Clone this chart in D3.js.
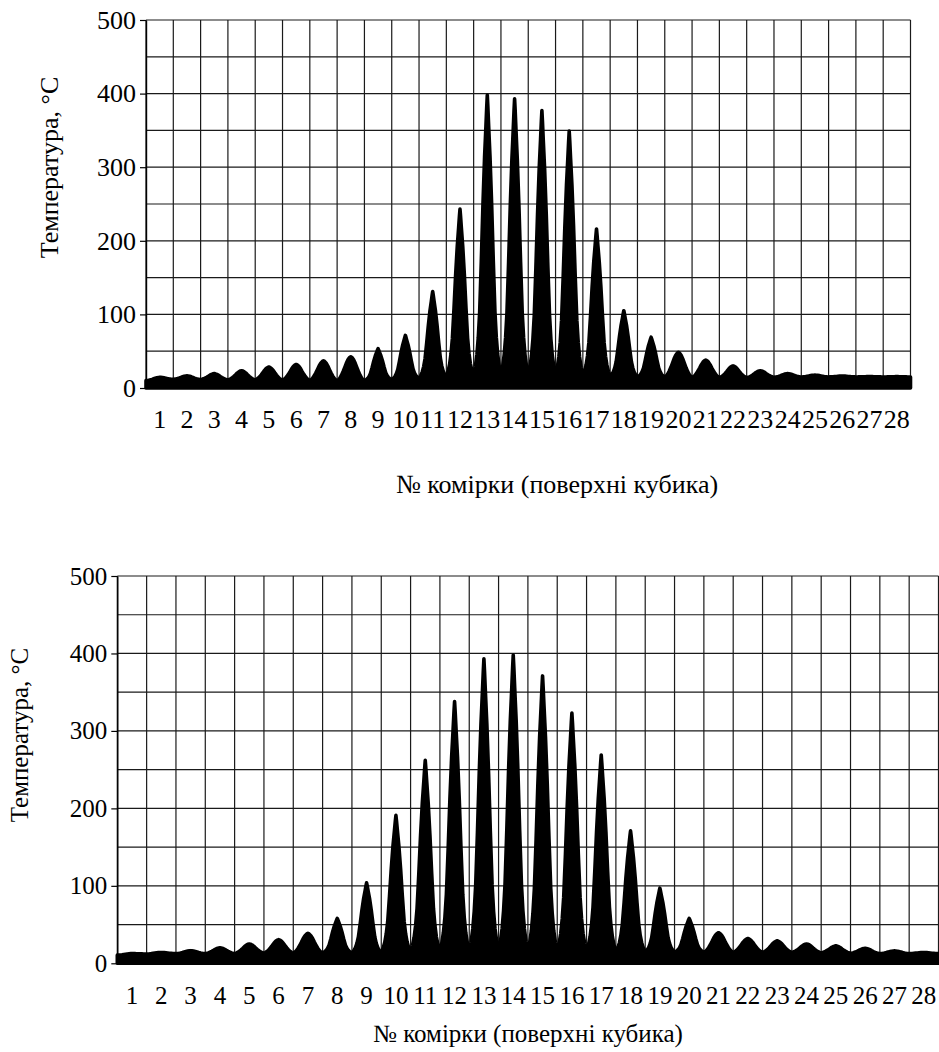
<!DOCTYPE html>
<html>
<head>
<meta charset="utf-8">
<script src="https://cdn.jsdelivr.net/npm/d3@7"></script>
<style>
  html, body { margin: 0; padding: 0; background: #fff; }
  #chart, #chart text { font-family: "Liberation Serif", "Times New Roman", Tinos, serif !important; }
</style>
</head>
<body>
<svg id="chart" width="939" height="1052" font-family="Liberation Serif"></svg>
<script>
// Cell numbers along the cube surface
const cellLabels = ["1","2","3","4","5","6","7","8","9","10","11","12","13","14",
                    "15","16","17","18","19","20","21","22","23","24","25","26","27","28"];
const yTickValues = [0, 100, 200, 300, 400, 500];
const yTitle = "Температура, °C";
const xTitle = "№ комірки (поверхні кубика)";

// Upper panel: peak temperature in each cell (°C)
const peaksUpper = [14.5, 16.5, 19.5, 23.5, 28.5, 32, 37, 42.5, 53.5, 71.5,
                    131, 243, 398, 393, 377, 349, 216, 105, 69, 48.5,
                    38, 30, 23.5, 19.5, 17.5, 16.3, 15.5, 15.4];
// Upper panel: temperature at the 29 cell boundaries (°C)
const troughsUpper = [10, 11.8, 11.5, 11, 11, 10.5, 10, 9.5, 9.5, 11,
                      12.5, 14, 15, 15.5, 15.5, 15.5, 15.5, 15, 14.5, 14.5,
                      14, 14, 14, 14.5, 15, 15, 15, 15, 15];

// Lower panel: peak temperature in each cell (°C)
const peaksLower = [12.5, 14, 16.3, 20, 25, 30.5, 38.7, 58, 104, 191,
                    262, 338, 393, 398, 371, 323, 269, 171, 97, 58,
                    39.5, 32, 29, 25, 22.5, 19.4, 16, 14];
// Lower panel: temperature at the 29 cell boundaries (°C)
const troughsLower = [10.5, 12, 12.5, 12.5, 12.5, 13, 13, 13, 13, 13,
                      13.5, 14, 14, 14, 14, 14, 14, 14, 14, 14,
                      14, 14, 14, 14, 13.5, 13, 12.5, 12.5, 12.5];

// Shape of a tall spike: [offset from cell centre in cell widths, share of the rise above the boundary level]
const spikeProfile = [
  [0.00, 1.00], [0.02, 0.96], [0.05, 0.89], [0.10, 0.78], [0.16, 0.61],
  [0.22, 0.41], [0.28, 0.23], [0.33, 0.14], [0.38, 0.08], [0.44, 0.035], [0.50, 0.00]
];
// Shape of a low, wide hump (cells rising less than 35 °C)
const humpProfile = [
  [0.00, 1.00], [0.04, 0.97], [0.10, 0.88], [0.16, 0.74], [0.22, 0.56],
  [0.28, 0.39], [0.34, 0.24], [0.40, 0.12], [0.45, 0.05], [0.50, 0.00]
];

const FONT = "'Liberation Serif', 'Times New Roman', Tinos, serif";
const svg = d3.select("#chart");

function buildSeries(peaks, troughs) {
  const pts = [];
  peaks.forEach((p, i) => {
    const c = i + 0.5;
    const prof = (p - Math.min(troughs[i], troughs[i + 1]) < 35) ? humpProfile : spikeProfile;
    for (let k = prof.length - 1; k > 0; k--) {
      const [u, f] = prof[k];
      pts.push({ x: c - u, v: troughs[i] + (p - troughs[i]) * f });
    }
    pts.push({ x: c, v: p });
    for (let k = 1; k < prof.length; k++) {
      const [u, f] = prof[k];
      pts.push({ x: c + u, v: troughs[i + 1] + (p - troughs[i + 1]) * f });
    }
  });
  return pts;
}

function drawPanel(cfg) {
  const g = svg.append("g");
  const x = d3.scaleLinear().domain([0, cellLabels.length]).range([cfg.left, cfg.right]);
  const xb = d3.scaleBand().domain(cellLabels).range([cfg.left, cfg.right]).padding(0);
  const y = d3.scaleLinear().domain([0, 500]).range([cfg.zero, cfg.top]);

  // grid
  g.append("g").selectAll("line").data(d3.range(0, 501, 50)).join("line")
    .attr("x1", cfg.left).attr("x2", cfg.right)
    .attr("y1", d => y(d)).attr("y2", d => y(d))
    .attr("stroke", "#1a1a1a").attr("stroke-width", 1.2);
  g.append("g").selectAll("line").data(d3.range(0, cellLabels.length + 1)).join("line")
    .attr("x1", d => x(d)).attr("x2", d => x(d))
    .attr("y1", y(0)).attr("y2", y(500))
    .attr("stroke", "#1a1a1a").attr("stroke-width", 1.2);

  // temperature trace
  const area = d3.area()
    .x(d => x(d.x))
    .y0(y(0))
    .y1(d => y(d.v));
  g.append("path")
    .datum(buildSeries(cfg.peaks, cfg.troughs))
    .attr("d", area)
    .attr("fill", "#000")
    .attr("stroke", "#000")
    .attr("stroke-width", 3.6)
    .attr("stroke-linejoin", "round");

  // y axis
  const ya = g.append("g")
    .attr("transform", `translate(${cfg.left},0)`)
    .call(d3.axisLeft(y).tickValues(yTickValues).tickSize(6).tickSizeOuter(0).tickPadding(4));
  ya.attr("font-family", null).attr("font-size", null);
  ya.select(".domain").attr("stroke", "#000").attr("stroke-width", 1.4);
  ya.selectAll(".tick line").attr("stroke", "#000").attr("stroke-width", 1.2);
  ya.selectAll(".tick text")
    .attr("fill", "#000")
    .attr("font-family", FONT)
    .style("font-family", FONT)
    .style("font-size", cfg.tickFont + "px");

  // x axis labels
  const xa = g.append("g")
    .attr("transform", `translate(0,${cfg.zero})`)
    .call(d3.axisBottom(xb).tickSize(0).tickPadding(0));
  xa.attr("font-family", null).attr("font-size", null);
  xa.select(".domain").remove();
  xa.selectAll(".tick text")
    .attr("y", cfg.xLabelOffset)
    .attr("dy", "0.35em")
    .attr("fill", "#000")
    .attr("font-family", FONT)
    .style("font-family", FONT)
    .style("font-size", cfg.tickFont + "px");

  // titles
  g.append("text")
    .attr("x", cfg.xTitleX).attr("y", cfg.xTitleY)
    .attr("text-anchor", "middle")
    .attr("font-family", FONT)
    .style("font-family", FONT)
    .style("font-size", cfg.titleFont + "px")
    .text(xTitle);
  g.append("text")
    .attr("transform", `translate(${cfg.yTitleX},${cfg.yTitleY}) rotate(-90)`)
    .attr("text-anchor", "middle")
    .attr("font-family", FONT)
    .style("font-family", FONT)
    .style("font-size", cfg.titleFont + "px")
    .text(yTitle);
}

drawPanel({
  left: 146, right: 910.5, top: 20, zero: 388,
  peaks: peaksUpper, troughs: troughsUpper,
  tickFont: 26, titleFont: 26, xLabelOffset: 31,
  xTitleX: 557, xTitleY: 493, yTitleX: 58, yTitleY: 167.5
});

drawPanel({
  left: 117.3, right: 938.5, top: 576, zero: 963.3,
  peaks: peaksLower, troughs: troughsLower,
  tickFont: 25, titleFont: 25, xLabelOffset: 32,
  xTitleX: 528, xTitleY: 1042, yTitleX: 28, yTitleY: 735
});
</script>
</body>
</html>
